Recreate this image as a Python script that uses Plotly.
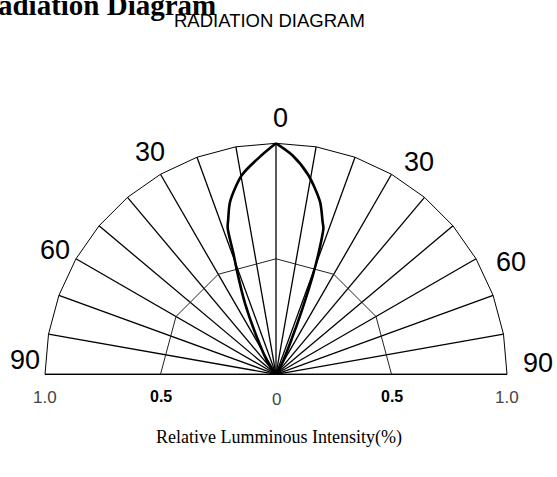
import numpy as np
import plotly.graph_objects as go

# ---- data ----
spoke_angles = list(range(-90, 91, 10))          # grid spokes (deg from vertical)
outer_ring_angles = list(range(-90, 91, 10))     # outer ring vertices
inner_ring_angles = [-90, -60, -30, 0, 30, 60, 90]  # 0.5 ring vertices
inner_ring_r = 0.5
outer_ring_r = 1.0

lobe_left_theta = [-45, -35, -27.2, -23.6, -20.6, -19.4, -18.3, -17.2, -14.9, -9.7, -3.7, 0]
lobe_left_r = [0.0, 0.058, 0.183, 0.335, 0.483, 0.555, 0.666, 0.70, 0.773, 0.875, 0.951, 1.0]
lobe_right_theta = [0, 4.2, 9.2, 14.3, 17.0, 18.0, 19.3, 20.4, 22.0, 24.0, 29.0, 40]
lobe_right_r = [1.0, 0.952, 0.874, 0.771, 0.69, 0.664, 0.56, 0.46, 0.30, 0.165, 0.055, 0.0]

angle_labels = ["90", "60", "30", "0", "30", "60", "90"]
scale_ticks = [-1.0, -0.5, 0, 0.5, 1.0]
scale_labels = ["1.0", "0.5", "0", "0.5", "1.0"]

title_text = "Radiation Diagram"
subtitle_text = "RADIATION DIAGRAM"
xlabel_text = "Relative Lumminous Intensity(%)"


def pol(theta_deg, r):
    t = np.radians(np.asarray(theta_deg, dtype=float))
    r = np.asarray(r, dtype=float)
    return r * np.sin(t), r * np.cos(t)


fig = go.Figure()

# spokes
sx, sy = [], []
for a in spoke_angles:
    x1, y1 = pol([a], [outer_ring_r])
    sx += [0, float(x1[0]), None]
    sy += [0, float(y1[0]), None]
fig.add_trace(go.Scatter(x=sx, y=sy, mode="lines",
                         line=dict(color="black", width=1.3), hoverinfo="skip"))

# outer ring
ox, oy = pol(outer_ring_angles, [outer_ring_r] * len(outer_ring_angles))
fig.add_trace(go.Scatter(x=ox, y=oy, mode="lines",
                         line=dict(color="black", width=1), hoverinfo="skip"))
# inner ring
ix, iy = pol(inner_ring_angles, [inner_ring_r] * len(inner_ring_angles))
fig.add_trace(go.Scatter(x=ix, y=iy, mode="lines",
                         line=dict(color="#222", width=1), hoverinfo="skip"))
# baseline
fig.add_trace(go.Scatter(x=[-outer_ring_r, outer_ring_r], y=[0, 0], mode="lines",
                         line=dict(color="black", width=1.3), hoverinfo="skip"))

# lobe
for th, rr in [(lobe_left_theta, lobe_left_r), (lobe_right_theta, lobe_right_r)]:
    lx, ly = pol(th, rr)
    fig.add_trace(go.Scatter(x=lx, y=ly, mode="lines",
                             line=dict(color="black", width=2.6, shape="spline", smoothing=0.8),
                             hoverinfo="skip"))

# px helpers (margins 0)
W, H = 557, 477
cx, cy, R = 276.0, 374.3, 231.0
x0 = -cx / R
x1 = (W - cx) / R
y0 = -(H - cy) / R
y1 = cy / R

def px(x):
    return x / W

def py(y):
    return 1 - y / H

angle_font = dict(family="Liberation Sans, Arial", size=27, color="black")
label_pos = [(25, 360), (55, 250), (150, 152), (280, 118), (419, 162), (511, 262), (538, 363)]
for txt, (lx, ly) in zip(angle_labels, label_pos):
    fig.add_annotation(x=px(lx), y=py(ly), xref="paper", yref="paper", text=txt,
                       showarrow=False, font=angle_font, xanchor="center", yanchor="middle")

# scale labels under baseline
scale_y = [397, 396, 399, 396, 397]
for v, txt, yy in zip(scale_ticks, scale_labels, scale_y):
    bold = txt == "0.5"
    fig.add_annotation(x=v, y=py(yy), xref="x", yref="paper", text=txt, showarrow=False,
                       font=dict(family="Liberation Sans, Arial", size=16 if bold else 17,
                                 color="black" if bold else "#444",
                                 weight="bold" if bold else "normal"),
                       xanchor="center", yanchor="middle")

# titles
fig.add_annotation(x=px(218), y=py(23), xref="paper", yref="paper", text="<b>" + title_text + "</b>",
                   showarrow=False, font=dict(family="Liberation Serif, Times New Roman", size=29, color="black"),
                   xanchor="right", yanchor="bottom")
fig.add_annotation(x=px(269), y=py(21), xref="paper", yref="paper", text=subtitle_text,
                   showarrow=False, font=dict(family="Liberation Sans, Arial", size=18.5, color="black"),
                   xanchor="center", yanchor="middle")
fig.add_annotation(x=px(279), y=py(437), xref="paper", yref="paper", text=xlabel_text,
                   showarrow=False, font=dict(family="Liberation Serif, Times New Roman", size=18, color="black"),
                   xanchor="center", yanchor="middle")

fig.update_layout(
    width=W, height=H, margin=dict(l=0, r=0, t=0, b=0),
    paper_bgcolor="white", plot_bgcolor="white", showlegend=False,
    xaxis=dict(range=[x0, x1], visible=False, fixedrange=True),
    yaxis=dict(range=[y0, y1], visible=False, fixedrange=True),
)

fig.write_html("out.html", config={"displayModeBar": False},
               post_script="document.body.style.margin='0';document.body.style.overflow='hidden';")
